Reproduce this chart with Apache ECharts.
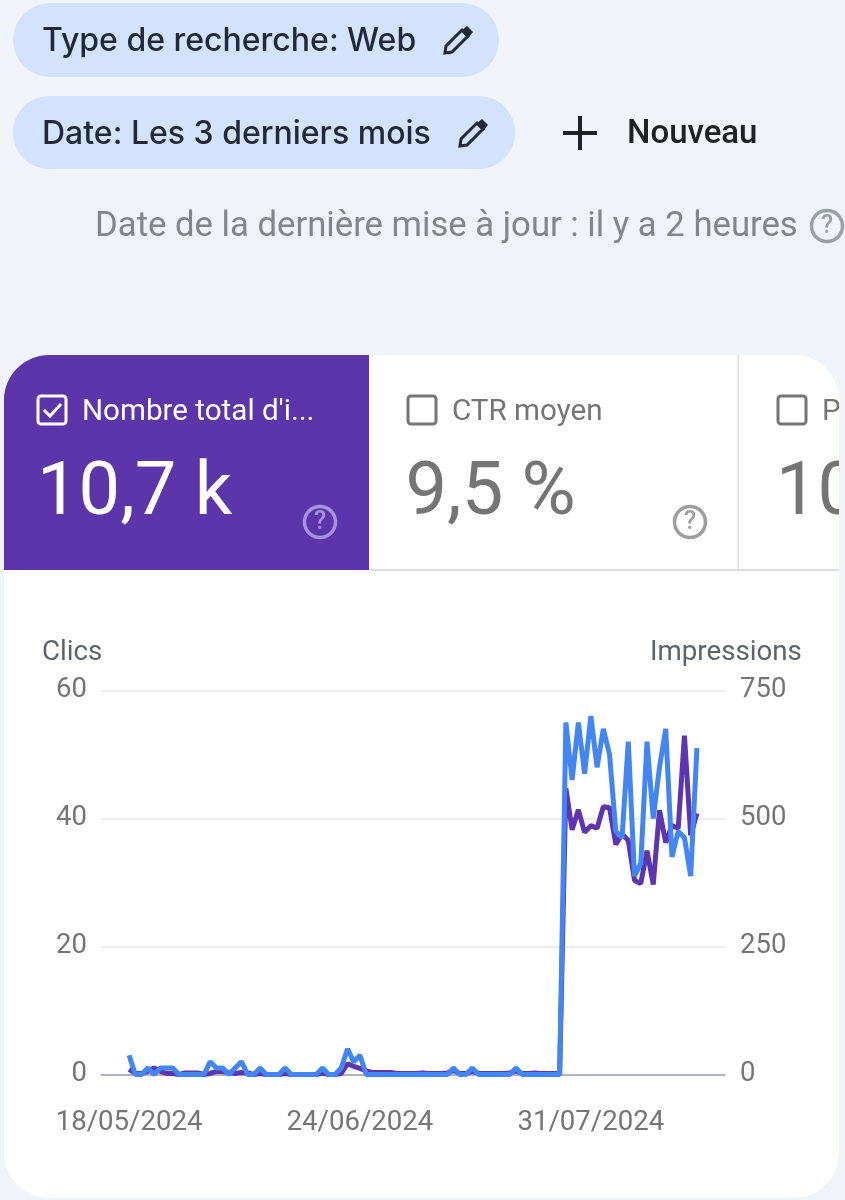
<!DOCTYPE html>
<html lang="fr">
<head>
    <meta charset="UTF-8">
    <title>Search Console</title>
    <style>
        html, body { margin: 0; padding: 0; background: #f0f4f9; }
    </style>
</head>
<body>
<div id="echart" style="width: 845px; height: 1200px;"></div>

<script src="https://cdn.jsdelivr.net/npm/echarts@6/dist/echarts.min.js"></script>
<script>
    // 92 days from 18/05/2024
    var tickDays = [0, 37, 74];
    var tickLabels = ['18/05/2024', '24/06/2024', '31/07/2024'];
    var clics = [
        3, 0, 0, 1, 0, 1, 1, 1, 0, 0,
        0, 0, 0, 2, 1, 1, 0, 1, 2, 0,
        0, 1, 0, 0, 0, 1, 0, 0, 0, 0,
        0, 1, 0, 0, 1, 4, 2, 3, 0, 0,
        0, 0, 0, 0, 0, 0, 0, 0, 0, 0,
        0, 0, 1, 0, 0, 1, 0, 0, 0, 0,
        0, 0, 1, 0, 0, 0, 0, 0, 0, 0,
        55, 46, 55, 47, 56, 48, 54, 50, 38, 37,
        52, 31, 33, 52, 40, 48, 54, 34, 38, 37,
        31, 51
    ];
    var impressions = [
        10, 2, 2, 6, 13, 6, 2, 2, 0, 3,
        3, 3, 0, 2, 6, 6, 4, 2, 4, 3,
        0, 2, 0, 0, 0, 2, 0, 0, 0, 0,
        0, 3, 0, 0, 2, 21, 16, 12, 7, 4,
        4, 4, 4, 2, 2, 2, 2, 3, 2, 2,
        2, 3, 8, 2, 2, 6, 2, 2, 2, 2,
        2, 3, 7, 2, 2, 3, 2, 2, 2, 2,
        559, 478, 517, 473, 486, 481, 523, 521, 449, 470,
        457, 379, 373, 437, 371, 516, 453, 486, 481, 662,
        467, 510
    ];

    var dom = document.getElementById("echart");
    var myChart = echarts.init(dom);

    var toSeries = function (values) {
        return values.map(function (v, i) { return [i, v]; });
    };

    var label = function (x, y, text, size, color, weight, family) {
        return {
            type: 'text', x: x, y: y, z: 5,
            style: {
                text: text, fill: color, fontSize: size, fontWeight: weight || 400,
                fontFamily: family || 'Roboto', textVerticalAlign: 'middle'
            }
        };
    };
    var box = function (x, y, w, h, fill, r, z) {
        return {
            type: 'rect', z: z || 1,
            shape: { x: x, y: y, width: w, height: h, r: r || 0 },
            style: { fill: fill }
        };
    };
    // body outline plus dark cap, x/y is the tip
    var pencil = function (x, y) {
        return {
            type: 'group', x: x, y: y, z: 5,
            children: [
                {
                    type: 'polygon', z: 5,
                    shape: { points: [[0, 0], [1, -7], [17, -23], [23, -17], [7, -1]] },
                    style: { fill: 'none', stroke: '#1f2937', lineWidth: 3 }
                },
                {
                    type: 'polygon', z: 5,
                    shape: { points: [[16, -22], [22, -27], [28, -21], [23, -15]] },
                    style: { fill: '#1f2937' }
                }
            ]
        };
    };
    var helpIcon = function (cx, cy, color) {
        return {
            type: 'group', z: 5,
            children: [
                {
                    type: 'circle', z: 5,
                    shape: { cx: cx, cy: cy, r: 15.5 },
                    style: { fill: 'none', stroke: color, lineWidth: 3.5 }
                },
                {
                    type: 'text', x: cx, y: cy + 1, z: 5,
                    style: {
                        text: '?', fill: color, fontSize: 25, fontWeight: 500, fontFamily: 'Roboto',
                        textAlign: 'center', textVerticalAlign: 'middle'
                    }
                }
            ]
        };
    };
    var checkbox = function (x, y, color, checked) {
        var els = [{
            type: 'rect', z: 5,
            shape: { x: x, y: y, width: 28, height: 28, r: 3 },
            style: { fill: 'none', stroke: color, lineWidth: 3 }
        }];
        if (checked) {
            els.push({
                type: 'polyline', z: 5,
                shape: { points: [[x + 6, y + 14], [x + 12, y + 20], [x + 23, y + 8]] },
                style: { fill: 'none', stroke: color, lineWidth: 3 }
            });
        }
        return { type: 'group', z: 5, children: els };
    };

    var purple = '#5e35b1';
    var grey = '#757575';
    var pageBg = '#f0f4f9';

    var decor = [
        // filter chips
        box(13, 3, 486, 74, '#d3e3fd', 37),
        box(13, 96, 502, 73, '#d3e3fd', 36),
        label(42, 41, 'Type de recherche: Web', 32, '#1f2937', 500, 'Inter'),
        pencil(445, 53),
        label(42, 134, 'Date: Les 3 derniers mois', 32, '#1f2937', 500, 'Inter'),
        pencil(460, 146),
        box(563, 131, 34, 4, '#202124', 0, 5),
        box(578, 116, 4, 34, '#202124', 0, 5),
        label(627, 135, 'Nouveau', 33, '#202124', 500, 'Roboto'),
        label(95, 227, 'Date de la dernière mise à jour : il y a 2 heures', 34.7, '#80868b'),
        helpIcon(827, 226, '#9aa0a6'),

        // card and metric tabs
        box(4, 355, 835, 843, '#ffffff', 45),
        {
            type: 'rect', z: 2,
            shape: { x: 4, y: 355, width: 365, height: 215, r: [45, 0, 0, 0] },
            style: { fill: '#5c35ab' }
        },
        box(369, 569, 470, 2, '#dadce0', 0, 2),
        box(737.5, 355, 1.5, 215, '#dadce0', 0, 2),
        checkbox(38, 396, '#ffffff', true),
        label(82, 413, "Nombre total d'i...", 29.6, '#ffffff'),
        label(37, 495, '10,7 k', 74, '#ffffff'),
        helpIcon(320, 522, '#a992dc'),
        checkbox(408, 396, grey, false),
        label(452, 413, 'CTR moyen', 29.6, grey),
        label(405.5, 495, '9,5 %', 74, grey),
        helpIcon(690, 522, '#9e9e9e'),
        checkbox(778, 396, grey, false),
        label(822, 413, 'Position', 29.6, grey),
        label(776, 495, '10', 74, grey),
        box(839, 380, 6, 190, pageBg, 0, 6),

        // axis titles
        label(42, 653, 'Clics', 27.7, '#5f6368'),
        label(650, 653, 'Impressions', 27.7, '#5f6368')
    ];

    var option = {
        animation: false,
        backgroundColor: pageBg,
        graphic: { elements: decor },
        grid: { left: 101, top: 690.5, width: 624, height: 384 },
        xAxis: {
            type: 'value',
            z: 3,
            min: -4.5,
            max: 95.5,
            axisLine: { show: true, lineStyle: { color: '#9aa0a6', width: 1.5 } },
            axisTick: { show: false },
            splitLine: { show: false },
            axisLabel: {
                customValues: tickDays,
                color: grey,
                fontSize: 27.6,
                fontFamily: 'Roboto',
                margin: 35,
                formatter: function (value) {
                    return tickLabels[tickDays.indexOf(value)];
                }
            }
        },
        yAxis: [
            {
                type: 'value', z: 3, min: 0, max: 60, interval: 20, position: 'left',
                axisLine: { show: false },
                axisTick: { show: false },
                splitLine: { lineStyle: { color: '#ebedf0', width: 2 } },
                axisLabel: { color: grey, fontSize: 27.5, fontFamily: 'Roboto', margin: 14, padding: [3, 0, 0, 0] }
            },
            {
                type: 'value', z: 3, min: 0, max: 750, interval: 250, position: 'right',
                axisLine: { show: false },
                axisTick: { show: false },
                splitLine: { show: false },
                axisLabel: { color: grey, fontSize: 27.5, fontFamily: 'Roboto', margin: 15, padding: [3, 0, 0, 0] }
            }
        ],
        series: [
            {
                name: 'Impressions', type: 'line', z: 4, yAxisIndex: 1, data: toSeries(impressions),
                showSymbol: false, lineStyle: { color: purple, width: 5 }, itemStyle: { color: purple }
            },
            {
                name: 'Clics', type: 'line', z: 4, yAxisIndex: 0, data: toSeries(clics),
                showSymbol: false, lineStyle: { color: '#4285f4', width: 5 }, itemStyle: { color: '#4285f4' }
            }
        ]
    };
    myChart.setOption(option, true);
</script>
</body>
</html>
